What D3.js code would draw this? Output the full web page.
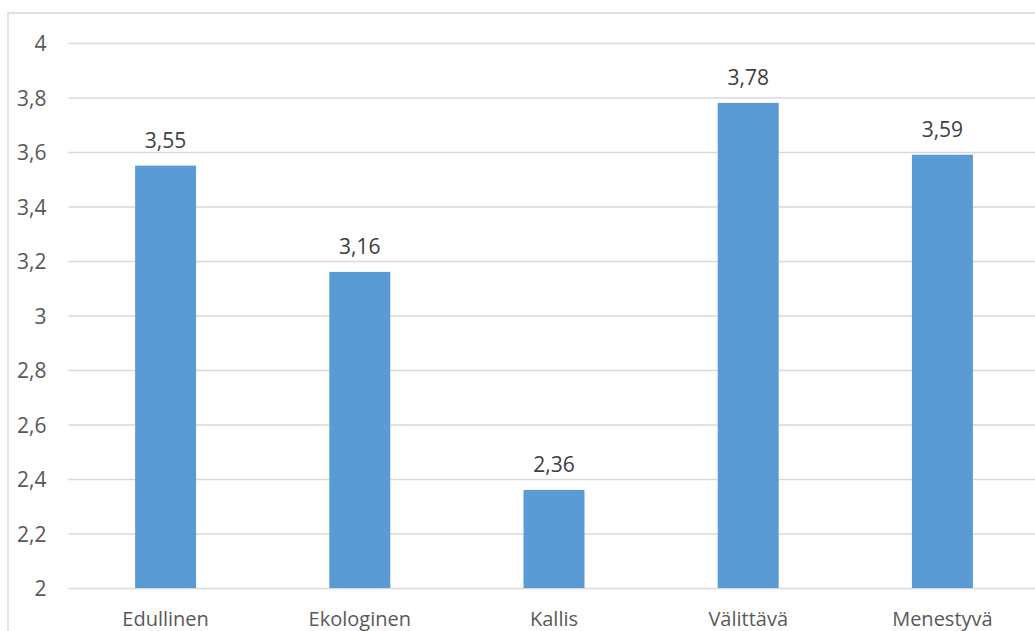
<!DOCTYPE html>
<html>
<head>
<meta charset="utf-8">
<script src="https://cdn.jsdelivr.net/npm/d3@7"></script>
<style>
  html, body { margin: 0; padding: 0; background: #fff; }
  svg { display: block; }
  text { font-family: "Open Sans", "Noto Sans", sans-serif; }
</style>
</head>
<body>
<svg id="chart" width="1035" height="631"></svg>
<script>
// Mean scores per attribute
const categories = ["Edullinen", "Ekologinen", "Kallis", "Välittävä", "Menestyvä"];
const values = [3.55, 3.16, 2.36, 3.78, 3.59];
const yTicks = [2, 2.2, 2.4, 2.6, 2.8, 3, 3.2, 3.4, 3.6, 3.8, 4];

const svg = d3.select("#chart");
const W = 1035, H = 631;

// Plot area (the chart frame runs past the right and bottom edges)
const plot = { left: 68.5, right: 1039.5, top: 43, bottom: 588 };

const x = d3.scaleBand()
  .domain(categories)
  .range([plot.left, plot.right])
  .padding(0);

const y = d3.scaleLinear()
  .domain([2, 4])
  .range([plot.bottom, plot.top]);

const fmt = v => d3.format(".2~f")(v).replace(".", ",");
const tickFmt = v => d3.format("~g")(v).replace(".", ",");

// Chart frame
svg.append("rect")
  .attr("x", 8).attr("y", 13)
  .attr("width", W + 20).attr("height", H + 20)
  .attr("fill", "none")
  .attr("stroke", "#d9d9d9")
  .attr("stroke-width", 1.5);

// Horizontal gridlines and y tick labels via axis
const yAxis = d3.axisLeft(y)
  .tickValues(yTicks)
  .tickFormat(tickFmt)
  .tickSize(-(plot.right - plot.left))
  .tickPadding(22);

const gy = svg.append("g")
  .attr("transform", `translate(${plot.left},0)`)
  .call(yAxis);
gy.select(".domain").remove();
gy.selectAll(".tick line")
  .attr("stroke", "#d9d9d9")
  .attr("stroke-width", 1.4);
gy.selectAll(".tick text")
  .attr("fill", "#595959")
  .attr("font-size", 21)
  .attr("dy", "0.36em");

// Bars
const barW = x.bandwidth() * 0.314;
svg.append("g")
  .selectAll("rect")
  .data(values)
  .join("rect")
  .attr("x", (d, i) => x(categories[i]) + x.bandwidth() / 2 - barW / 2)
  .attr("y", d => y(d))
  .attr("width", barW)
  .attr("height", d => y(2) - y(d))
  .attr("fill", "#5b9bd5");

// Value labels
svg.append("g")
  .selectAll("text")
  .data(values)
  .join("text")
  .attr("x", (d, i) => x(categories[i]) + x.bandwidth() / 2)
  .attr("y", d => y(d) - 18)
  .attr("text-anchor", "middle")
  .attr("fill", "#404040")
  .attr("font-size", 21)
  .text(d => fmt(d));

// Category axis labels
const xAxis = d3.axisBottom(x).tickSize(0).tickPadding(0);
const gx = svg.append("g")
  .attr("transform", `translate(0,${plot.bottom})`)
  .call(xAxis);
gx.select(".domain").remove();
gx.selectAll(".tick text")
  .attr("fill", "#595959")
  .attr("font-size", 20)
  .attr("dy", 0)
  .attr("y", 38);
</script>
</body>
</html>
